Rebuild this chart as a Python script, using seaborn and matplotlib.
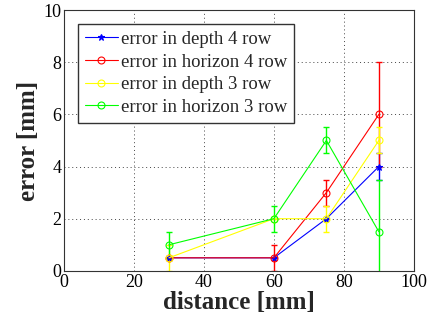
import numpy as np
import pandas as pd
import matplotlib
matplotlib.use("Agg")
import matplotlib.pyplot as plt
import seaborn as sns

# Daten
distanz = [30, 60, 75, 90]
tiefe_4 = [0.5, 0.5, 2.0, 4.0]
tiefe_4_err = [0.0, 0.0, 0.0, 0.5]
horizont_4 = [0.5, 0.5, 3.0, 6.0]
horizont_4_err = [0.0, 0.5, 0.5, 2.0]
tiefe_3 = [0.5, 2.0, 2.0, 5.0]
tiefe_3_err = [0.5, 0.0, 0.5, 0.5]
horizont_3 = [1.0, 2.0, 5.0, 1.5]
horizont_3_err = [0.5, 0.5, 0.5, 2.0]

namen = ["error in depth 4 row", "error in horizon 4 row",
         "error in depth 3 row", "error in horizon 3 row"]
farben = ["#0000ff", "#ff0000", "#ffff00", "#00ff00"]
marker = ["*", "o", "o", "o"]

reihen = [(tiefe_4, tiefe_4_err), (horizont_4, horizont_4_err),
          (tiefe_3, tiefe_3_err), (horizont_3, horizont_3_err)]

sns.set_style("white")
plt.rcParams['font.family'] = ['Liberation Serif', 'DejaVu Serif']

fig = plt.figure(figsize=(4.32, 3.24), dpi=100)
ax = fig.add_axes([0.148, 0.164, 0.81, 0.805])

for (werte, fehler), name, farbe, mk in zip(reihen, namen, farben, marker):
    df = pd.DataFrame({"distance": distanz, "error": werte})
    ax.errorbar(distanz, werte, yerr=fehler, fmt="none", ecolor=farbe,
                elinewidth=1.0, capsize=2.5, capthick=1.0, zorder=2)
    sns.lineplot(data=df, x="distance", y="error", ax=ax, color=farbe,
                 marker=mk, markersize=5 if mk == "o" else 4.5,
                 markerfacecolor="none" if mk == "o" else farbe,
                 markeredgecolor=farbe, markeredgewidth=0.8,
                 linewidth=0.8, label=name, zorder=3)

ax.set_xlim(0, 100)
ax.set_ylim(0, 10)
ax.set_xticks([0, 20, 40, 60, 80, 100])
ax.set_yticks([0, 2, 4, 6, 8, 10])
ax.tick_params(labelsize=13, direction="in", length=3, pad=2, colors="black")
ax.grid(True, linestyle=(0, (1, 3)), color="#444444", linewidth=0.7)
for sp in ax.spines.values():
    sp.set_color("#333333")
    sp.set_linewidth(0.8)

ax.set_xlabel("distance [mm]", fontsize=18, fontweight="bold", labelpad=0)
ax.set_ylabel("error [mm]", fontsize=18, fontweight="bold", labelpad=2)

leg = ax.legend(loc="upper left", fontsize=13.5, fancybox=False,
                edgecolor="#333333", framealpha=1, handlelength=1.8,
                borderaxespad=0.75, borderpad=0.35, labelspacing=0.3,
                handletextpad=0.15)
leg.get_frame().set_linewidth(1.0)

fig.savefig("out.png", dpi=100)
plt.close(fig)
